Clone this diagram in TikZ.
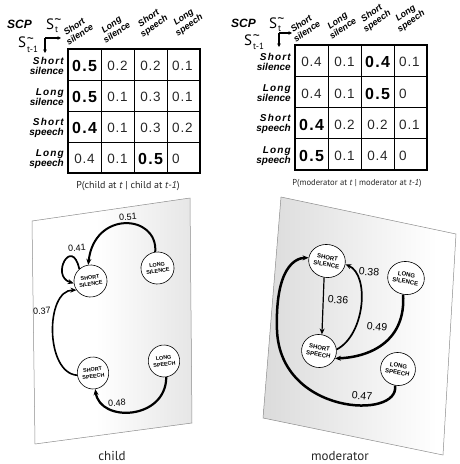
\documentclass[tikz,border=0pt]{standalone}
\usepackage{fontspec}
\setmainfont{Liberation Sans}
\newfontfamily\capfont{PT Sans}
\usetikzlibrary{arrows.meta,shapes.geometric}
\pgfdeclarehorizontalshading{childshade}{100bp}{color(0bp)=(white); color(45bp)=(white); color(100bp)=(black!18)}
\pgfdeclarehorizontalshading{modshade}{100bp}{color(0bp)=(black!22); color(70bp)=(white); color(100bp)=(white)}
\tikzset{
  x=1pt,y=-1pt,
  cellval/.style={inner sep=0, text=black!85, font=\fontsize{13.5}{14}\selectfont\addfontfeature{LetterSpace=6}},
  cellbold/.style={inner sep=0, font=\fontsize{16}{16}\selectfont\bfseries\addfontfeature{LetterSpace=8}},
  cellvalw/.style={cellval, anchor=west, xshift=-11.5},
  rowlab/.style={inner sep=0, align=right, anchor=east, font=\fontsize{10}{10.5}\selectfont\bfseries\itshape},
  collab/.style={inner sep=0, align=center, anchor=south west, rotate=35, font=\fontsize{9}{9.5}\selectfont\bfseries\itshape},
  scp/.style={inner sep=0, anchor=base west, font=\fontsize{12}{12}\selectfont\bfseries\itshape},
  bigS/.style={inner sep=0, anchor=base west, font=\capfont\fontsize{15}{15}\selectfont},
  subS/.style={inner sep=0, anchor=base west, font=\capfont\fontsize{9}{9}\selectfont},
  tild/.style={inner sep=0, font=\capfont\fontsize{14}{14}\selectfont},
  smallarr/.style={line width=1.2, -{Triangle[length=3.5,width=3.5]}},
  caption/.style={inner sep=0, font=\capfont\fontsize{10}{10}\selectfont, text=black!85},
  panelcap/.style={inner sep=0, font=\capfont\fontsize{13}{13}\selectfont, text=black!85},
  cstate/.style={ellipse, draw, line width=0.6, fill=white, inner sep=0, minimum width=27, minimum height=32, align=center, rotate=8, font=\fontsize{5.4}{6.4}\selectfont\bfseries},
  mstate/.style={ellipse, draw, line width=0.6, fill=white, inner sep=0, minimum width=31, minimum height=33, align=center, rotate=-10, font=\fontsize{6}{7}\selectfont\bfseries},
  arr/.style={-{Stealth[length=6,width=5]}},
  clab/.style={inner sep=0, font=\fontsize{9}{9}\selectfont, rotate=4},
  mlab/.style={inner sep=0, font=\fontsize{10.5}{10.5}\selectfont, rotate=-5},
}
\begin{document}
\begin{tikzpicture}
\useasboundingbox (0,0) rectangle (459,464);

%% ---------------- left table ----------------
\node[scp] (scpL) at (7,28) {SCP};
\node[bigS] (SL1) at (46,29) {S};
\node[subS] (SL1s) at (55,32) {t};
\node[tild] (SL1t) at (58,22) {\textasciitilde};
\node[bigS] (SL2) at (18,47) {S};
\node[subS] (SL2s) at (27,52) {t-1};
\node[tild] (SL2t) at (30.5,41) {\textasciitilde};
\coordinate (lc) at (45,38);
\coordinate (lcr) at (61,38);
\coordinate (lcd) at (45,53);
\draw[smallarr] (lc) -- (lcr);
\draw[smallarr] (lc) -- (lcd);

\node[collab] (hL1) at (69,46) {Short\\silence};
\node[collab] (hL2) at (106,44) {Long\\silence};
\node[collab] (hL3) at (144,39) {Short\\speech};
\node[collab] (hL4) at (179,38) {Long\\speech};

\node[rowlab] (rL1) at (64,66) {{\addfontfeature{LetterSpace=12}Short}\\silence};
\node[rowlab] (rL2) at (64,97) {{\addfontfeature{LetterSpace=12}Long}\\silence};
\node[rowlab] (rL3) at (64,128) {{\addfontfeature{LetterSpace=12}Short}\\speech};
\node[rowlab] (rL4) at (64,159) {{\addfontfeature{LetterSpace=12}Long}\\speech};

\foreach \i in {1,2,3} {
  \draw[line width=0.8] ({68+33*\i},49) -- ({68+33*\i},173);
  \draw[line width=0.8] (68,{49+31*\i}) -- (200,{49+31*\i});
}
\draw[line width=2] (68,49) rectangle (200,173);

\foreach \r/\c/\s/\v in {1/1/cellbold/0.5, 1/2/cellval/0.2, 1/3/cellval/0.2, 1/4/cellvalw/0.1,
                         2/1/cellbold/0.5, 2/2/cellval/0.1, 2/3/cellval/0.3, 2/4/cellvalw/0.1,
                         3/1/cellbold/0.4, 3/2/cellval/0.1, 3/3/cellval/0.3, 3/4/cellvalw/0.2,
                         4/1/cellval/0.4,  4/2/cellval/0.1, 4/3/cellbold/0.5, 4/4/cellvalw/0}
  \node[\s] (L\r\c) at ({68+33*\c-16.5},{49+31*\r-14}) {\v};

\node[caption] (capL) at (128,186) {P(child at \textit{t} | child at \textit{t-1})};

%% ---------------- right table ----------------
\node[scp] (scpR) at (231,27) {SCP};
\node[bigS] (SR1) at (269,28) {S};
\node[subS] (SR1s) at (278,31) {t};
\node[tild] (SR1t) at (281,21) {\textasciitilde};
\node[bigS] (SR2) at (244,45) {S};
\node[subS] (SR2s) at (253,49) {t-1};
\node[tild] (SR2t) at (256.5,38) {\textasciitilde};
\coordinate (rc) at (279,33);
\coordinate (rcr) at (292,33);
\coordinate (rcd) at (279,47);
\draw[smallarr] (rc) -- (rcr);
\draw[smallarr] (rc) -- (rcd);

\node[collab] (hR1) at (296,43) {Short\\silence};
\node[collab] (hR2) at (332,40) {Long\\silence};
\node[collab] (hR3) at (367,34) {Short\\speech};
\node[collab] (hR4) at (401,34) {Long\\speech};

\node[rowlab] (rR1) at (291,62) {{\addfontfeature{LetterSpace=12}Short}\\silence};
\node[rowlab] (rR2) at (291,93) {{\addfontfeature{LetterSpace=12}Long}\\silence};
\node[rowlab] (rR3) at (291,124) {{\addfontfeature{LetterSpace=12}Short}\\speech};
\node[rowlab] (rR4) at (291,156) {{\addfontfeature{LetterSpace=12}Long}\\speech};

\foreach \i in {1,2,3} {
  \draw[line width=0.8] ({295+33*\i},45) -- ({295+33*\i},170);
  \draw[line width=0.8] (295,{45+31.25*\i}) -- (427,{45+31.25*\i});
}
\draw[line width=2] (295,45) rectangle (427,170);

\foreach \r/\c/\s/\v in {1/1/cellval/0.4,  1/2/cellval/0.1, 1/3/cellbold/0.4, 1/4/cellvalw/0.1,
                         2/1/cellval/0.4,  2/2/cellval/0.1, 2/3/cellbold/0.5, 2/4/cellvalw/0,
                         3/1/cellbold/0.4, 3/2/cellval/0.2, 3/3/cellval/0.2,  3/4/cellvalw/0.1,
                         4/1/cellbold/0.5, 4/2/cellval/0.1, 4/3/cellval/0.4,  4/4/cellvalw/0}
  \node[\s] (R\r\c) at ({295+33*\c-16.5},{45+31.25*\r-14}) {\v};

\node[caption, font=\capfont\fontsize{8.6}{9}\selectfont] (capR) at (357,183) {P(moderator at \textit{t} | moderator at \textit{t-1})};

%% ---------------- child panel ----------------
\shadedraw[shading=childshade, shading angle=0, draw=black!45, line width=0.5]
  (32,221) -- (190,198) -- (192,423) -- (35,444) -- cycle;

\node[cstate] (cSS) at (90.5,281) {SHORT\\SILENCE};
\node[cstate] (cLS) at (157.5,268) {LONG\\SILENCE};
\node[cstate] (cSP) at (93,373) {SHORT\\SPEECH};
\node[cstate] (cLP) at (164,361) {LONG\\SPEECH};

\draw[arr, line width=2] (cLS.north) .. controls (158,214) and (94,210) .. (cSS.north);
\draw[arr, line width=1.7] (cSS.125) .. controls (72,236) and (50,276) .. (cSS.180);
\draw[arr, line width=1.6] (cSP.west) .. controls (45,373) and (45,290) .. (cSS.205);
\draw[arr, line width=2.2] (cLP.south) .. controls (166,420) and (100,423) .. (cSP.south);

\node[clab] (l51) at (128,217) {0.51};
\node[clab] (l41) at (77,248) {0.41};
\node[clab] (l37) at (42,311) {0.37};
\node[clab] (l48) at (117,403) {0.48};

\node[panelcap] (child) at (112,456) {child};

%% ---------------- moderator panel ----------------
\shadedraw[shading=modshade, shading angle=0, draw=black!45, line width=0.5]
  (281,197) -- (456,234) -- (443,455) -- (263,418) -- cycle;

\node[mstate] (mSS) at (327,261) {SHORT\\SILENCE};
\node[mstate] (mLS) at (406,278) {LONG\\SILENCE};
\node[mstate] (mSP) at (319,351) {SHORT\\SPEECH};
\node[mstate] (mLP) at (398,369) {LONG\\SPEECH};

\draw[arr, line width=1.2] (mSS.south) -- (mSP.north);
\draw[arr, line width=1.7] (mSP.15) .. controls (365,335) and (370,275) .. (mSS.east);
\draw[arr, line width=2.5] (mLS.south) .. controls (406,340) and (372,357) .. (mSP.-15);
\draw[arr, line width=2.5] (mLP.south) .. controls (400,420) and (280,415) .. (277,330)
  .. controls (275,268) and (295,258) .. (mSS.west);

\node[mlab] (l36) at (338,300) {0.36};
\node[mlab] (l38) at (369,272) {0.38};
\node[mlab] (l49) at (377,327) {0.49};
\node[mlab] (l47) at (362,396) {0.47};

\node[panelcap] (moderator) at (340,456) {moderator};
\end{tikzpicture}
\end{document}
